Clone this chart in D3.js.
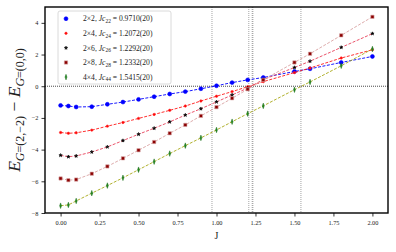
<!DOCTYPE html>
<html>
<head>
<meta charset="utf-8">
<script src="https://cdn.jsdelivr.net/npm/d3@7"></script>
<style>
  body { margin: 0; background: #fff; }
  text { font-family: "Liberation Serif", "DejaVu Serif", serif; }
</style>
</head>
<body>
<svg id="chart" width="396" height="252"></svg>
<script>
var J = [0, 0.05, 0.1, 0.2, 0.3, 0.4, 0.5, 0.6, 0.7, 0.8, 0.9, 1.0, 1.1, 1.2, 1.3, 1.5, 1.6, 1.8, 2.0];
var e22 = [-1.21, -1.25, -1.31, -1.29, -1.14, -1.0, -0.83, -0.66, -0.49, -0.34, -0.16, 0.03, 0.23, 0.40, 0.55, 0.93, 1.1, 1.5, 1.88];
var e24 = [-2.92, -2.97, -2.94, -2.77, -2.52, -2.29, -2.03, -1.78, -1.52, -1.25, -0.93, -0.63, -0.34, -0.03, 0.29, 0.86, 1.15, 1.78, 2.30];
var e26 = [-4.36, -4.45, -4.40, -4.15, -3.83, -3.43, -3.03, -2.65, -2.25, -1.82, -1.42, -0.99, -0.55, -0.12, 0.42, 1.18, 1.58, 2.45, 3.32];
var e28 = [-5.82, -5.93, -5.89, -5.52, -5.06, -4.55, -4.04, -3.52, -2.97, -2.44, -1.87, -1.32, -0.76, -0.19, 0.40, 1.50, 2.05, 3.21, 4.38];
var e44 = [-7.54, -7.49, -7.24, -6.75, -6.27, -5.78, -5.27, -4.76, -4.25, -3.75, -3.26, -2.76, -2.24, -1.73, -1.24, -0.22, 0.27, 1.29, 2.35];
var sizes = ['2×2', '2×4', '2×6', '2×8', '4×4'];
var jcSub = ['22', '24', '26', '28', '44'];
var jcVal = [0.9710, 1.2072, 1.2292, 1.2332, 1.5415];
var jcText = ['0.9710(20)', '1.2072(20)', '1.2292(20)', '1.2332(20)', '1.5415(20)'];
var xTicks = [0, 0.25, 0.5, 0.75, 1, 1.25, 1.5, 1.75, 2];
var yTicks = [-8, -6, -4, -2, 0, 2, 4];

var margin = { top: 7, right: 8, bottom: 39, left: 45 };
var width = 396 - margin.left - margin.right;
var height = 252 - margin.top - margin.bottom;

var svg = d3.select('#chart').append('g')
  .attr('transform', 'translate(' + margin.left + ', ' + margin.top + ')');

var xScale = d3.scaleLinear().domain([-0.1, 2.1]).range([0, width]);
var yScale = d3.scaleLinear().domain([-8, 5]).range([height, 0]);

var series = [
  { vals: e22, marker: 'circle', fill: '#0000ff', stroke: '#0000ff', line: '#0000ff', size: 12 },
  { vals: e24, marker: 'circle', fill: '#ff0000', stroke: '#ff3030', line: '#ff1a1a', size: 4.5 },
  { vals: e26, marker: 'star', fill: '#000000', stroke: '#000000', line: '#e8415a', size: 3.5 },
  { vals: e28, marker: 'square', fill: '#8b0000', stroke: '#d8a8a8', line: '#d9a3a3', size: 11 },
  { vals: e44, marker: 'diamond', fill: '#228b22', stroke: '#1a6b1a', line: '#a8a818', size: 9 }
];

// critical point guides
svg.selectAll('.vline')
  .data(jcVal)
  .enter()
  .append('line')
  .attr('class', 'vline')
  .attr('x1', function (d) { return xScale(d); })
  .attr('x2', function (d) { return xScale(d); })
  .attr('y1', 0)
  .attr('y2', height)
  .attr('stroke', '#9a9a9a')
  .attr('stroke-width', 0.9)
  .attr('stroke-dasharray', '1,1');

svg.append('line')
  .attr('x1', 0).attr('x2', width)
  .attr('y1', yScale(0)).attr('y2', yScale(0))
  .attr('stroke', '#333')
  .attr('stroke-width', 0.9)
  .attr('stroke-dasharray', '1,1');

var line = d3.line()
  .x(function (d, i) { return xScale(J[i]); })
  .y(function (d) { return yScale(d); });

function symbolFor(s) {
  var types = { circle: d3.symbolCircle, star: d3.symbolStar, square: d3.symbolSquare, diamond: d3.symbolDiamond };
  return d3.symbol().type(types[s.marker]).size(s.size);
}

function markerTransform(s, x, y) {
  var t = 'translate(' + x + ',' + y + ')';
  return s.marker === 'diamond' ? t + ' scale(0.6,1)' : t;
}

series.forEach(function (s) {
  svg.append('path')
    .datum(s.vals)
    .attr('d', line)
    .attr('fill', 'none')
    .attr('stroke', s.line)
    .attr('stroke-width', 0.9)
    .attr('stroke-dasharray', '3,1.5');

  svg.selectAll(null)
    .data(s.vals)
    .enter()
    .append('path')
    .attr('transform', function (d, i) { return markerTransform(s, xScale(J[i]), yScale(d)); })
    .attr('d', symbolFor(s)())
    .attr('fill', s.fill)
    .attr('stroke', s.stroke)
    .attr('stroke-width', 0.6);
});

// axes
var xAxis = d3.axisBottom(xScale)
  .tickValues(xTicks)
  .tickFormat(d3.format('.2f'))
  .tickSizeOuter(0)
  .tickSize(3.5);
var yAxis = d3.axisLeft(yScale)
  .tickValues(yTicks)
  .tickFormat(function (d) { return d < 0 ? '\u2212' + Math.abs(d) : d; })
  .tickSizeOuter(0)
  .tickSize(3.5);

var gx = svg.append('g')
  .attr('transform', 'translate(0, ' + height + ')')
  .call(xAxis);
var gy = svg.append('g').call(yAxis);
[gx, gy].forEach(function (g) {
  g.select('.domain').remove();
  g.selectAll('line').attr('stroke', '#000').attr('stroke-width', 0.8);
  g.selectAll('text')
    .attr('font-family', 'Liberation Serif')
    .attr('font-size', '6.3px')
    .attr('fill', '#222');
});
gx.selectAll('text').attr('dy', '0.9em');

svg.append('rect')
  .attr('x', 0).attr('y', 0)
  .attr('width', width).attr('height', height)
  .attr('fill', 'none')
  .attr('stroke', '#000')
  .attr('stroke-width', 1.4);

// legend
var leg = svg.append('g').attr('transform', 'translate(13, 4)');
leg.append('rect')
  .attr('width', 113).attr('height', 73)
  .attr('rx', 2)
  .attr('fill', '#fff')
  .attr('fill-opacity', 0.85)
  .attr('stroke', '#d0d0d0')
  .attr('stroke-width', 0.8);

series.forEach(function (s, i) {
  var yy = 7.7 + i * 14.6;
  leg.append('path')
    .attr('transform', markerTransform(s, 8, yy))
    .attr('d', symbolFor(s)())
    .attr('fill', s.fill)
    .attr('stroke', s.stroke)
    .attr('stroke-width', 0.6);
  var t = leg.append('text')
    .attr('x', 25)
    .attr('y', yy + 2.6)
    .attr('font-size', '7.6px')
    .attr('fill', '#222');
  t.append('tspan').text(sizes[i] + ', ');
  t.append('tspan').attr('font-style', 'italic').text('Jc');
  t.append('tspan').attr('font-size', '5.4px').attr('dy', 1.6).text(jcSub[i]);
  t.append('tspan').attr('dy', -1.6).text(' = ' + jcText[i]);
});

// axis labels
svg.append('text')
  .attr('x', xScale(1))
  .attr('y', height + 26)
  .attr('text-anchor', 'middle')
  .attr('font-size', '10px')
  .attr('fill', '#222')
  .text('J');

var yl = d3.select('#chart').append('text')
  .attr('transform', 'translate(20, 110) rotate(-90)')
  .attr('text-anchor', 'middle')
  .attr('font-size', '17.5px')
  .attr('fill', '#222');
yl.append('tspan').attr('font-style', 'italic').text('E');
yl.append('tspan').attr('font-size', '12px').attr('dy', 3.5).attr('font-style', 'italic').text('G');
yl.append('tspan').attr('font-size', '12px').text('=(2,\u22122)');
yl.append('tspan').attr('dy', -3.5).text(' \u2212 ');
yl.append('tspan').attr('font-style', 'italic').text('E');
yl.append('tspan').attr('font-size', '12px').attr('dy', 3.5).attr('font-style', 'italic').text('G');
yl.append('tspan').attr('font-size', '12px').text('=(0,0)');
</script>
</body>
</html>
